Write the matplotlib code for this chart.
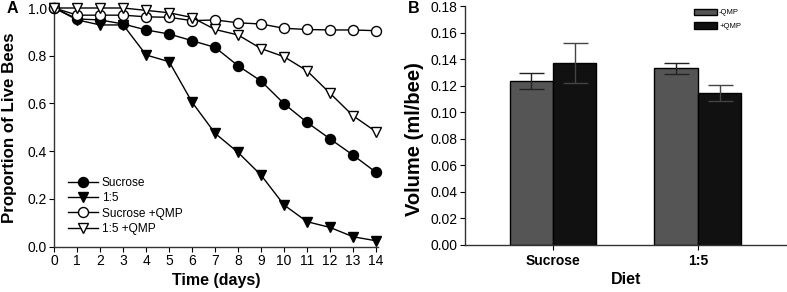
import matplotlib
matplotlib.use("Agg")
import matplotlib.pyplot as plt
import numpy as np

plt.rcParams['font.family'] = ['Liberation Sans', 'DejaVu Sans']

days = list(range(15))
sucrose = [1.0, 0.954, 0.95, 0.933, 0.908, 0.891, 0.863, 0.835, 0.758, 0.694, 0.599, 0.521, 0.452, 0.384, 0.312]
ratio15 = [1.0, 0.95, 0.929, 0.929, 0.803, 0.775, 0.605, 0.475, 0.395, 0.300, 0.175, 0.105, 0.081, 0.042, 0.025]
sucrose_qmp = [1.0, 0.97, 0.97, 0.97, 0.963, 0.961, 0.947, 0.95, 0.938, 0.933, 0.915, 0.91, 0.908, 0.908, 0.905]
ratio15_qmp = [1.0, 1.0, 1.0, 1.0, 0.99, 0.98, 0.96, 0.91, 0.887, 0.83, 0.796, 0.737, 0.643, 0.549, 0.482]
series_labels = ["Sucrose", "1:5", "Sucrose +QMP", "1:5 +QMP"]

diets = ["Sucrose", "1:5"]
vol_minus = [0.1235, 0.133]
err_minus = [0.006, 0.004]
vol_plus = [0.137, 0.1145]
err_plus = [0.015, 0.006]
bar_labels = ["-QMP", "+QMP"]

fig = plt.figure(figsize=(7.87, 2.92), dpi=100)

# Panel A
axA = fig.add_axes([0.069, 0.155, 0.411, 0.8176])
ms = 7.2
axA.plot(days, sucrose, '-o', color='black', mfc='black', mec='black', ms=ms, lw=1, label=series_labels[0], clip_on=False, zorder=3)
axA.plot(days, ratio15, '-v', color='black', mfc='black', mec='black', ms=ms, lw=1, label=series_labels[1], clip_on=False, zorder=3)
axA.plot(days, sucrose_qmp, '-o', color='black', mfc='white', mec='black', ms=ms, lw=1, label=series_labels[2], clip_on=False, zorder=4)
axA.plot(days, ratio15_qmp, '-v', color='black', mfc='white', mec='black', ms=ms, lw=1, label=series_labels[3], clip_on=False, zorder=4)
axA.set_xlim(0, 14.08)
axA.set_ylim(0, 1.0)
axA.set_xticks(range(15))
axA.set_yticks(np.arange(0, 1.01, 0.2))
axA.set_yticklabels([f"{v:.1f}" for v in np.arange(0, 1.01, 0.2)])
for s in ['top', 'right']:
    axA.spines[s].set_visible(False)
for s in ['left', 'bottom']:
    axA.spines[s].set_color('#333333')
    axA.spines[s].set_linewidth(1.0)
axA.tick_params(direction='out', length=3.5, width=0.8, labelsize=10, pad=2)
axA.set_xlabel("Time (days)", fontsize=11.5, fontweight='bold', labelpad=3)
axA.set_ylabel("Proportion of Live Bees", fontsize=12.2, fontweight='bold')
axA.yaxis.set_label_coords(-0.114, 0.499)
leg = axA.legend(loc='center left', bbox_to_anchor=(0.042, 0.171), frameon=False, fontsize=8.6,
                 handlelength=2.5, handletextpad=0.35, labelspacing=0.28, borderpad=0, borderaxespad=0)
fig.text(0.008, 0.972, "A", fontsize=11.5, fontweight='bold', va='center', ha='left')

# Panel B
axB = fig.add_axes([0.5909, 0.161, 0.409, 0.818])
x = np.arange(len(diets))
w = 0.30
axB.bar(x - w/2, vol_minus, w, color='#555555', edgecolor='black', linewidth=1, label=bar_labels[0], zorder=2)
axB.bar(x + w/2, vol_plus, w, color='#111111', edgecolor='black', linewidth=1, label=bar_labels[1], zorder=2)
axB.errorbar(x - w/2, vol_minus, yerr=err_minus, fmt='none', ecolor='#222222', elinewidth=1, capsize=9, capthick=1, zorder=3)
axB.errorbar(x + w/2, vol_plus, yerr=err_plus, fmt='none', ecolor='#444444', elinewidth=1, capsize=9, capthick=1, zorder=3)
axB.set_xlim(-0.607, 1.614)
axB.set_ylim(0, 0.18)
axB.set_xticks(x)
axB.set_xticklabels(diets, fontweight='bold', fontsize=9.3)
yt = np.arange(0, 0.181, 0.02)
axB.set_yticks(yt)
axB.set_yticklabels([f"{v:.2f}" for v in yt])
for s in ['top', 'right']:
    axB.spines[s].set_visible(False)
for s in ['left', 'bottom']:
    axB.spines[s].set_color('#333333')
    axB.spines[s].set_linewidth(1.0)
axB.tick_params(direction='out', length=3.5, width=0.8, labelsize=10, pad=2)
axB.tick_params(axis='x', pad=3)
axB.set_xlabel("Diet", fontsize=11.5, fontweight='bold', labelpad=3)
axB.set_ylabel("Volume (ml/bee)", fontsize=14.5, fontweight='bold')
axB.yaxis.set_label_coords(-0.126, 0.443)
axB.legend(loc='upper left', bbox_to_anchor=(0.711, 0.99), frameon=False, fontsize=5.5,
           handlelength=3.0, handleheight=0.9, handletextpad=0.3, labelspacing=0.8, borderpad=0, borderaxespad=0)
fig.text(0.518, 0.972, "B", fontsize=11.5, fontweight='bold', va='center', ha='left')

fig.savefig("out.png", dpi=100)
